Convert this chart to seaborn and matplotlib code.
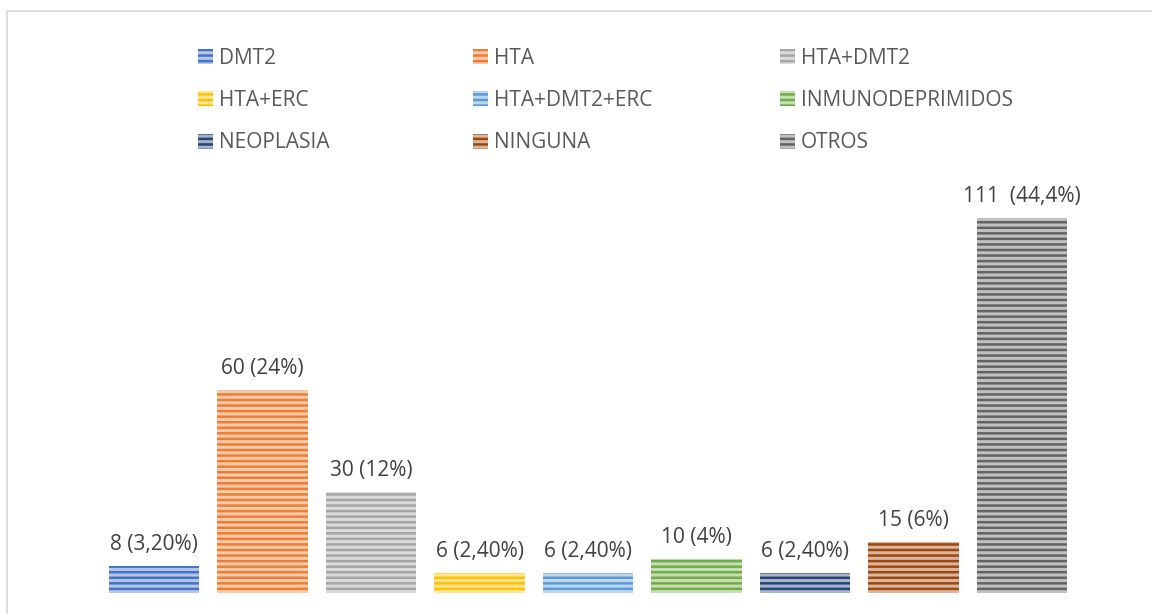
import matplotlib
matplotlib.use('Agg')
import matplotlib.pyplot as plt
import matplotlib.patches as mpatches
from matplotlib.lines import Line2D
import seaborn as sns
import pandas as pd

# data
categorias = ['DMT2', 'HTA', 'HTA+DMT2', 'HTA+ERC', 'HTA+DMT2+ERC',
              'INMUNODEPRIMIDOS', 'NEOPLASIA', 'NINGUNA', 'OTROS']
casos = [8, 60, 30, 6, 6, 10, 6, 15, 111]
etiquetas = ['8 (3,20%)', '60 (24%)', '30 (12%)', '6 (2,40%)', '6 (2,40%)',
             '10 (4%)', '6 (2,40%)', '15 (6%)', '111  (44,4%)']
colores = ['#4472C4', '#ED7D31', '#A5A5A5', '#FFC000', '#5B9BD5',
           '#70AD47', '#264478', '#9E480E', '#636363']

sns.set_style('white')
plt.rcParams['font.family'] = ['Open Sans', 'DejaVu Sans']
plt.rcParams['hatch.linewidth'] = 2.2

df = pd.DataFrame({'cat': categorias, 'n': casos})

fig = plt.figure(figsize=(11.52, 6.14), dpi=100)
ax = fig.add_axes([99.75 / 1152, 1 - 593 / 614, 976.5 / 1152, 405.6 / 614])

sns.barplot(data=df, x='cat', y='n', hue='cat', palette=colores,
            width=0.83, legend=False, ax=ax, saturation=1)

for p in ax.patches:
    p.set_hatch('---')
    p.set_edgecolor((1, 1, 1, 0.6))
    p.set_linewidth(0)

for i, (v, t) in enumerate(zip(casos, etiquetas)):
    ax.text(i, v + 3.2, t, ha='center', va='bottom', fontsize=15, color='#404040')

ax.set_ylim(0, 120)
ax.set_xlim(-0.5, len(categorias) - 0.5)
ax.set_xticks([])
ax.set_yticks([])
ax.set_xlabel('')
ax.set_ylabel('')
sns.despine(ax=ax, left=True, bottom=True)

# legend: 3 columns, row-major, one entry each so columns sit like the original
col_x = [198, 473, 780]
row_y = [58, 100, 143]
for k, (cat, c) in enumerate(zip(categorias, colores)):
    h = mpatches.Patch(facecolor=c, edgecolor=(1, 1, 1, 0.6), hatch='---', linewidth=0)
    fig.legend([h], [cat], loc='center left',
               bbox_to_anchor=(col_x[k % 3] / 1152, 1 - row_y[k // 3] / 614),
               frameon=False, fontsize=15, labelcolor='#595959',
               handlelength=0.7, handleheight=0.7, handletextpad=0.3,
               borderpad=0, borderaxespad=0)

# chart frame (light gray border)
fig.add_artist(Line2D([7 / 1152, 1], [1 - 11 / 614] * 2, color='#D9D9D9', lw=1.2))
fig.add_artist(Line2D([7 / 1152] * 2, [0, 1 - 11 / 614], color='#D9D9D9', lw=1.2))

fig.savefig('out.png', dpi=100)
